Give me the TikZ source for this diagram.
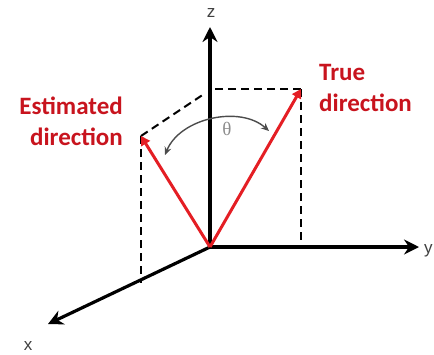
\documentclass[tikz,border=0pt]{standalone}
\usepackage{fontspec}
\setmainfont{Carlito}
\newfontfamily\grkfont{Liberation Serif}
\newfontfamily\axfont{Liberation Sans}
\usetikzlibrary{arrows.meta}
\definecolor{txtred}{RGB}{200,20,30}
\definecolor{vecred}{RGB}{228,30,36}
\tikzset{
  axis/.style={line width=3.2pt,-{Stealth[length=15pt,width=15pt,inset=5pt]}},
  vec/.style={line width=3pt,vecred,-{Triangle[length=9pt,width=10pt]}},
  guide/.style={line width=2pt,dash pattern=on 8pt off 5pt},
  lbl/.style={txtred,font=\fontsize{25}{31}\selectfont\bfseries,inner sep=0pt},
  ax/.style={font=\axfont\fontsize{17}{17}\selectfont,inner sep=0pt,text=black!75}
}
\begin{document}
\begin{tikzpicture}[x=1pt,y=-1pt]
\useasboundingbox (0,0) rectangle (434,354);
\coordinate (O) at (210,247);
\coordinate (Ztip) at (210,27);
\coordinate (Ytip) at (419,247);
\coordinate (Xtip) at (48,324);
\coordinate (T) at (301,89);
\coordinate (E) at (141,136);
\coordinate (Tz) at (212,89);
\coordinate (Tf) at (301,247);
\coordinate (Ef) at (141,283);
\coordinate (Ez) at (204,94);
% dashed guides
\draw[guide] (T) -- (Tz);
\draw[guide] (T) -- (Tf);
\draw[guide] (E) -- (Ef);
\draw[guide] (E) -- (Ez);
% axes
\draw[axis] (O) -- (Ztip);
\draw[axis] (O) -- (Ytip);
\draw[axis] (O) -- (Xtip);
\node[ax] (zl) at (211,13) {z};
\node[ax,anchor=west] (yl) at (424,251) {y};
\node[ax] (xl) at (28,346) {x};
% vectors
\draw[vec] (O) -- (T);
\draw[vec] (O) -- (E);
% angle arc
\draw[line width=1.4pt,black!70,{Stealth[length=8pt,width=7pt]}-{Stealth[length=8pt,width=7pt]}]
  (165,155) .. controls (180,118) and (240,105) .. (269,131);
\node[font=\grkfont\fontsize{19}{19}\selectfont,text=black!45,inner sep=0pt] (th) at (227,129) {θ};
% labels
\node[lbl,align=right,anchor=east] (est) at (123,121) {Estimated\\direction};
\node[lbl,align=left,anchor=west] (tru) at (319,88) {True\\direction};
\end{tikzpicture}
\end{document}
